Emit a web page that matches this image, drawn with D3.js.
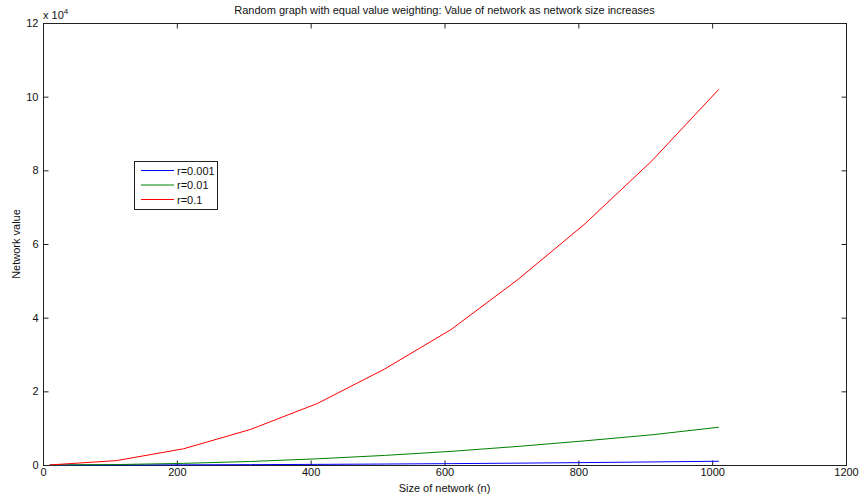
<!DOCTYPE html>
<html><head><meta charset="utf-8">
<script src="https://cdn.jsdelivr.net/npm/d3@7"></script>
<style>body{margin:0;background:#fff;}svg{display:block;font-family:"Liberation Sans",Arial,sans-serif;}</style>
</head><body><svg id="c" width="860" height="499"></svg>
<script>
const networkSize = [10,110,210,310,410,510,610,710,810,910,1010];
const seriesNames = ["r=0.001","r=0.01","r=0.1"];
const seriesColors = ["#0000ff","#008000","#ff0000"];
const valuesR0001 = [0.1,12,44,96,168,260,372,504,656,828,1020];
const valuesR001 = [1,120,440,960,1680,2600,3700,5050,6560,8200,10250];
const valuesR01 = [10,1200,4400,9650,16700,26000,36800,50400,65500,82600,102000];
const xTicks = [0,200,400,600,800,1000,1200];
const yTicks = [0,2,4,6,8,10,12];
const series = [valuesR0001, valuesR001, valuesR01];

const svg = d3.select("#c");
const L=43, R=846, T=23, B=465;
const x = d3.scaleLinear().domain([0,1200]).range([L,R]);
const y = d3.scaleLinear().domain([0,120000]).range([B,T]);
const axisCol = "#222";

// box
svg.append("rect").attr("x",L+0.5).attr("y",T+0.5).attr("width",R-L).attr("height",B-T)
  .attr("fill","#fff").attr("stroke",axisCol).attr("stroke-width",1);

// axes
const xb = svg.append("g").attr("transform",`translate(0,${B+0.5})`)
  .call(d3.axisBottom(x).tickValues(xTicks).tickSize(-5).tickPadding(3).tickFormat(d3.format("d")));
const xt = svg.append("g").attr("transform",`translate(0,${T+0.5})`)
  .call(d3.axisTop(x).tickValues(xTicks).tickSize(-5).tickFormat(""));
const yl = svg.append("g").attr("transform",`translate(${L+0.5},0)`)
  .call(d3.axisLeft(y).tickValues(yTicks.map(v=>v*1e4)).tickSize(-5).tickPadding(5).tickFormat(d=>d/1e4));
const yr = svg.append("g").attr("transform",`translate(${R+0.5},0)`)
  .call(d3.axisRight(y).tickValues(yTicks.map(v=>v*1e4)).tickSize(-5).tickFormat(""));
[xb,xt,yl,yr].forEach(g=>{
  g.select(".domain").remove();
  g.selectAll("line").attr("stroke",axisCol);
  g.selectAll("text").attr("fill","#111").style("font-size","11px");
});
xb.selectAll("text").attr("dy","0.71em");

// lines
const line = d3.line().x((d,i)=>x(networkSize[i])).y(d=>y(d));
series.forEach((s,k)=>{
  svg.append("path").datum(s).attr("d",line).attr("fill","none")
    .attr("stroke",seriesColors[k]).attr("stroke-width",1);
});

// title and labels
svg.append("text").attr("x",(L+R)/2).attr("y",14).attr("text-anchor","middle")
  .style("font-size","11px").attr("fill","#111")
  .text("Random graph with equal value weighting: Value of network as network size increases");
svg.append("text").attr("x",(L+R)/2).attr("y",492).attr("text-anchor","middle")
  .style("font-size","11px").attr("fill","#111").text("Size of network (n)");
svg.append("text").attr("transform",`translate(20,${(T+B)/2}) rotate(-90)`).attr("text-anchor","middle")
  .style("font-size","11px").attr("fill","#111").text("Network value");
const ex = svg.append("text").attr("x",43).attr("y",19).style("font-size","11px").attr("fill","#111");
ex.append("tspan").text("x 10");
ex.append("tspan").attr("dy",-5).style("font-size","8px").text("4");

// legend
const lg = svg.append("g");
lg.append("rect").attr("x",134.5).attr("y",161.5).attr("width",83).attr("height",48)
  .attr("fill","#fff").attr("stroke",axisCol);
seriesNames.forEach((n,k)=>{
  const yy = 170.5 + k*14.5;
  lg.append("line").attr("x1",141).attr("x2",174).attr("y1",yy).attr("y2",yy)
    .attr("stroke",seriesColors[k]).attr("stroke-width",1);
  lg.append("text").attr("x",177).attr("y",yy+4).style("font-size","11px").attr("fill","#111").text(n);
});
</script></body></html>
